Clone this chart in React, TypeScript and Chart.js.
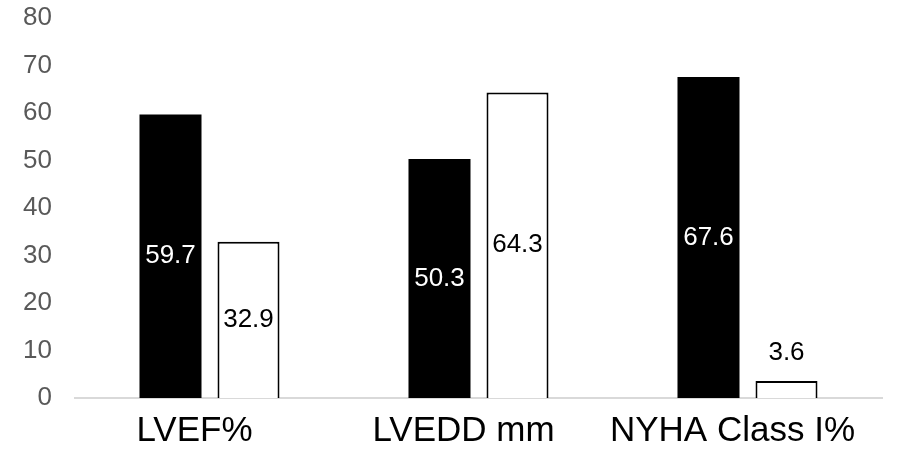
import React, { useEffect, useRef } from "react";
import { Chart, registerables } from "chart.js";

Chart.register(...registerables);

const categories = ["LVEF%", "LVEDD mm", "NYHA Class I%"];
const seriesA = [59.7, 50.3, 67.6];
const seriesB = [32.9, 64.3, 3.6];
const yTicks = [0, 10, 20, 30, 40, 50, 60, 70, 80];

const FONT = "'Liberation Sans', Arial, sans-serif";

const valueLabels = {
  id: "valueLabels",
  afterDatasetsDraw(chart: any) {
    const ctx = chart.ctx;
    ctx.save();
    ctx.font = `26px ${FONT}`;
    ctx.textAlign = "center";
    ctx.textBaseline = "middle";
    chart.data.datasets.forEach((ds: any, di: number) => {
      const meta = chart.getDatasetMeta(di);
      meta.data.forEach((el: any, i: number) => {
        const v = ds.data[i];
        const txt = v.toFixed(1);
        const h = el.base - el.y;
        if (h > 30) {
          ctx.fillStyle = di === 0 ? "#ffffff" : "#000000";
          ctx.fillText(txt, el.x, (el.y + el.base) / 2);
        } else {
          ctx.fillStyle = "#000000";
          ctx.fillText(txt, el.x, el.y - 28);
        }
      });
    });
    ctx.restore();
  },
};

export default function App() {
  const ref = useRef<HTMLCanvasElement | null>(null);
  useEffect(() => {
    if (!ref.current) return;
    const chart = new Chart(ref.current, {
      type: "bar",
      data: {
        labels: categories,
        datasets: [
          {
            label: "A",
            data: seriesA,
            backgroundColor: "#000000",
            borderWidth: 0,
            categoryPercentage: 0.58,
            barPercentage: 0.795,
          },
          {
            label: "B",
            data: seriesB,
            backgroundColor: "#ffffff",
            borderColor: "#000000",
            borderWidth: 2,
            categoryPercentage: 0.58,
            barPercentage: 0.795,
          },
        ],
      },
      options: {
        animation: false,
        responsive: false,
        maintainAspectRatio: false,
        layout: { padding: { top: 18, right: 20, left: 0, bottom: 0 } },
        plugins: {
          legend: { display: false },
          tooltip: { enabled: false },
          title: { display: false },
        },
        scales: {
          x: {
            grid: { display: false, drawTicks: false },
            border: { display: true, color: "#d9d9d9", width: 2 },
            ticks: {
              color: "#000000",
              font: { family: FONT, size: 35 },
              padding: 12,
              labelOffset: -15,
              maxRotation: 0,
              autoSkip: false,
            },
            afterFit: (s: any) => {
              s.height = 57;
              s.paddingLeft = 0;
              s.paddingRight = 0;
            },
          },
          y: {
            min: 0,
            max: 80,
            afterBuildTicks: (s: any) => {
              s.ticks = yTicks.map((v) => ({ value: v }));
            },
            grid: { display: false, drawTicks: false },
            border: { display: false },
            ticks: {
              color: "#595959",
              font: { family: FONT, size: 26 },
              padding: 23,
            },
            afterFit: (s: any) => {
              s.width = 75;
              s.paddingTop = 0;
              s.paddingBottom = 0;
            },
          },
        },
      },
      plugins: [valueLabels],
    });
    return () => chart.destroy();
  }, []);
  return (
    <div style={{ position: "fixed", left: 0, top: 0, width: 902, height: 455, background: "#fff" }}>
      <canvas ref={ref} width={902} height={455} style={{ width: 902, height: 455, display: "block" }} />
    </div>
  );
}
